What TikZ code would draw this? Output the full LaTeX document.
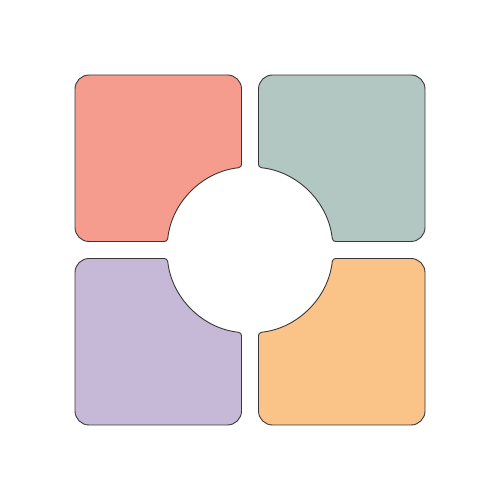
\documentclass[tikz,border=0pt]{standalone}
\begin{document}
\begin{tikzpicture}[x=1pt,y=1pt,
  piece/.style={draw=black!78, line width=0.9pt, line join=round}]
\definecolor{cTL}{HTML}{F69C8E}
\definecolor{cTR}{HTML}{B2C7C1}
\definecolor{cBL}{HTML}{C5B9D7}
\definecolor{cBR}{HTML}{FAC388}
\useasboundingbox (0,0) rectangle (500,500);
\fill[white] (0,0) rectangle (500,500);
\begin{scope}[shift={(250,250)}]
\foreach \ang/\col in {0/cTL, -90/cTR, 180/cBR, 90/cBL}{
  \begin{scope}[rotate=\ang]
    \draw[piece, fill=\col, rounded corners=3pt]
      (-8.5,120) -- (-8.5,82.56) arc[start angle=95.88, end angle=174.12, radius=83]
      -- (-120,8.5) [rounded corners=14pt] -- (-175,8.5) -- (-175,175) -- (-8.5,175) -- cycle;
  \end{scope}
}
\end{scope}
\end{tikzpicture}
\end{document}
